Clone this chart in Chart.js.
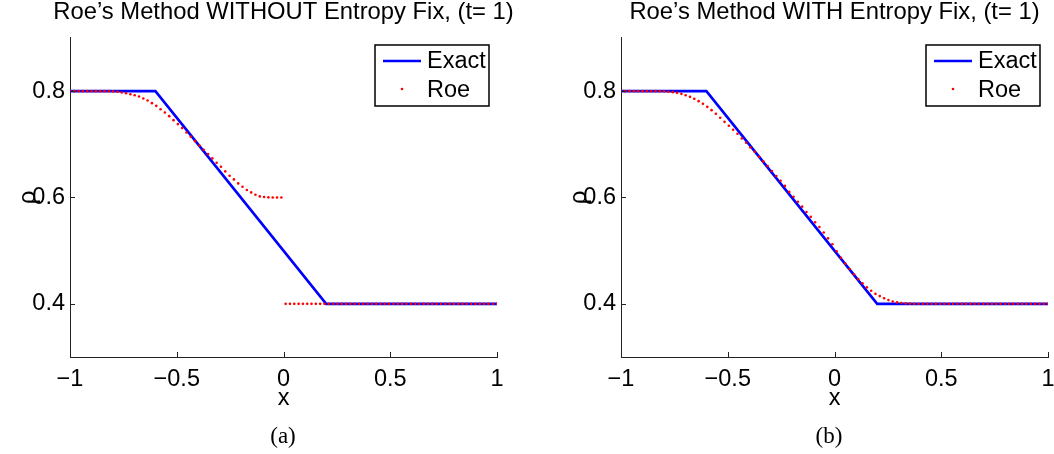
<!DOCTYPE html>
<html>
<head>
<meta charset="utf-8">
<script src="https://cdn.jsdelivr.net/npm/chart.js@4/dist/chart.umd.min.js"></script>
<style>
  html, body { margin: 0; padding: 0; background: #fff; }
  #wrap { position: relative; width: 1054px; height: 454px; overflow: hidden; }
  .panel { position: absolute; top: 0; width: 567px; height: 454px; }
  .caption { position: absolute; top: 423px; width: 100px; line-height: 26px; text-align: center;
             font-family: "Liberation Serif", "DejaVu Serif", serif; font-size: 23px; color: #000; }
</style>
</head>
<body>
<div id="wrap">
  <div class="panel" style="left:0"><canvas id="chartA" width="567" height="454"></canvas></div>
  <div class="panel" style="left:551px"><canvas id="chartB" width="567" height="454"></canvas></div>
  <div class="caption" style="left:233px">(a)</div>
  <div class="caption" style="left:779px">(b)</div>
</div>
<script>
// grid points of the numerical solution (100 points on [-1, 1])
const xs = [
  -1, -0.9798, -0.9596, -0.9394, -0.9192, -0.8990, -0.8788, -0.8586, -0.8384, -0.8182,
  -0.7980, -0.7778, -0.7576, -0.7374, -0.7172, -0.6970, -0.6768, -0.6566, -0.6364, -0.6162,
  -0.5960, -0.5758, -0.5556, -0.5354, -0.5152, -0.4949, -0.4747, -0.4545, -0.4343, -0.4141,
  -0.3939, -0.3737, -0.3535, -0.3333, -0.3131, -0.2929, -0.2727, -0.2525, -0.2323, -0.2121,
  -0.1919, -0.1717, -0.1515, -0.1313, -0.1111, -0.0909, -0.0707, -0.0505, -0.0303, -0.0101,
  0.0101, 0.0303, 0.0505, 0.0707, 0.0909, 0.1111, 0.1313, 0.1515, 0.1717, 0.1919,
  0.2121, 0.2323, 0.2525, 0.2727, 0.2929, 0.3131, 0.3333, 0.3535, 0.3737, 0.3939,
  0.4141, 0.4343, 0.4545, 0.4747, 0.4949, 0.5152, 0.5354, 0.5556, 0.5758, 0.5960,
  0.6162, 0.6364, 0.6566, 0.6768, 0.6970, 0.7172, 0.7374, 0.7576, 0.7778, 0.7980,
  0.8182, 0.8384, 0.8586, 0.8788, 0.8990, 0.9192, 0.9394, 0.9596, 0.9798, 1
];

// Roe without entropy fix (expansion shock at x = 0)
const roeWithout = [
  0.8, 0.8, 0.8, 0.8, 0.8, 0.8, 0.8, 0.8, 0.8, 0.8,
  0.7995, 0.7988, 0.7974, 0.7962, 0.7943, 0.7924, 0.7899, 0.7862, 0.7824, 0.7774,
  0.7724, 0.7661, 0.7599, 0.7530, 0.7455, 0.7380, 0.7305, 0.7223, 0.7142, 0.7060,
  0.6979, 0.6898, 0.6816, 0.6735, 0.6654, 0.6578, 0.6491, 0.6409, 0.6340, 0.6265,
  0.6203, 0.6140, 0.6096, 0.6053, 0.6021, 0.6009, 0.6003, 0.6, 0.6, 0.6,
  0.4, 0.4, 0.4, 0.4, 0.4, 0.4, 0.4, 0.4, 0.4, 0.4,
  0.4, 0.4, 0.4, 0.4, 0.4, 0.4, 0.4, 0.4, 0.4, 0.4,
  0.4, 0.4, 0.4, 0.4, 0.4, 0.4, 0.4, 0.4, 0.4, 0.4,
  0.4, 0.4, 0.4, 0.4, 0.4, 0.4, 0.4, 0.4, 0.4, 0.4,
  0.4, 0.4, 0.4, 0.4, 0.4, 0.4, 0.4, 0.4, 0.4, 0.4
];

// Roe with entropy fix
const roeWith = [
  0.8, 0.8, 0.8, 0.8, 0.8, 0.8, 0.8, 0.8, 0.8, 0.8,
  0.7996, 0.7990, 0.7981, 0.7968, 0.7949, 0.7924, 0.7893, 0.7855, 0.7812, 0.7762,
  0.7705, 0.7643, 0.7574, 0.7499, 0.7423, 0.7348, 0.7273, 0.7198, 0.7110, 0.7029,
  0.6941, 0.6860, 0.6766, 0.6679, 0.6591, 0.6497, 0.6403, 0.6316, 0.6218, 0.6105,
  0.6015, 0.5919, 0.5828, 0.5727, 0.5636, 0.5535, 0.5444, 0.5343, 0.5232, 0.5121,
  0.4990, 0.4868, 0.4757, 0.4656, 0.4555, 0.4464, 0.4385, 0.4310, 0.4245, 0.4188,
  0.4145, 0.4105, 0.4070, 0.4045, 0.4027, 0.4015, 0.4008, 0.4004, 0.4002, 0.4001,
  0.4, 0.4, 0.4, 0.4, 0.4, 0.4, 0.4, 0.4, 0.4, 0.4,
  0.4, 0.4, 0.4, 0.4, 0.4, 0.4, 0.4, 0.4, 0.4, 0.4,
  0.4, 0.4, 0.4, 0.4, 0.4, 0.4, 0.4, 0.4, 0.4, 0.4
];

// exact rarefaction
const exactX = [-1, -0.6, 0.2, 1];
const exactY = [0.8, 0.8, 0.4, 0.4];

const xTicks = [-1, -0.5, 0, 0.5, 1];
const yTicks = [0.4, 0.6, 0.8];

const FONT = '"Liberation Sans", Arial, Helvetica, sans-serif';
Chart.defaults.font.family = FONT;
Chart.defaults.color = '#000';

const fmt = v => (v < 0 ? '\u2212' + Math.abs(v) : String(v));

// small inward tick marks like matlab
const axisTicks = {
  id: 'axisTicks',
  afterDatasetsDraw(chart) {
    const { ctx, chartArea, scales: { x, y } } = chart;
    ctx.save();
    ctx.strokeStyle = '#222';
    ctx.lineWidth = 1;
    ctx.beginPath();
    xTicks.forEach(v => {
      const px = Math.round(x.getPixelForValue(v)) + 0.5;
      ctx.moveTo(px, chartArea.bottom);
      ctx.lineTo(px, chartArea.bottom - 5);
    });
    yTicks.forEach(v => {
      const py = Math.round(y.getPixelForValue(v)) + 0.5;
      ctx.moveTo(chartArea.left, py);
      ctx.lineTo(chartArea.left + 5, py);
    });
    ctx.stroke();
    ctx.restore();
  }
};

// boxed legend in the top right corner of the axes
const boxLegend = {
  id: 'boxLegend',
  afterDraw(chart) {
    const { ctx, chartArea } = chart;
    const [exact, roe] = chart.data.datasets;
    const w = 114, h = 61;
    const left = chartArea.right - 8 - w;
    const top = chartArea.top + 7;
    ctx.save();
    ctx.fillStyle = '#fff';
    ctx.fillRect(left, top, w, h);
    ctx.strokeStyle = '#000';
    ctx.lineWidth = 1.5;
    ctx.strokeRect(left, top, w, h);

    ctx.strokeStyle = exact.borderColor;
    ctx.lineWidth = exact.borderWidth;
    ctx.beginPath();
    ctx.moveTo(left + 8, top + 16);
    ctx.lineTo(left + 46, top + 16);
    ctx.stroke();

    ctx.fillStyle = roe.backgroundColor;
    ctx.beginPath();
    ctx.arc(left + 27, top + 44, roe.pointRadius, 0, 2 * Math.PI);
    ctx.fill();

    ctx.fillStyle = '#000';
    ctx.font = '23.5px ' + FONT;
    ctx.textBaseline = 'middle';
    ctx.fillText(exact.label, left + 52, top + 17);
    ctx.fillText(roe.label, left + 52, top + 46);
    ctx.restore();
  }
};

function makeChart(id, title, roe) {
  return new Chart(document.getElementById(id), {
    type: 'scatter',
    data: {
      datasets: [
        {
          label: 'Exact',
          data: exactX.map((x, i) => ({ x: x, y: exactY[i] })),
          showLine: true,
          borderColor: '#0000ff',
          borderWidth: 2.6,
          pointRadius: 0,
          order: 2,
        },
        {
          label: 'Roe',
          data: xs.map((x, i) => ({ x: x, y: roe[i] })),
          showLine: false,
          pointRadius: 1.3,
          pointBorderWidth: 0,
          backgroundColor: '#ff0000',
          borderColor: '#ff0000',
          order: 1,
        },
      ],
    },
    options: {
      responsive: false,
      animation: false,
      layout: { padding: 0 },
      plugins: {
        legend: { display: false },
        tooltip: { enabled: false },
        title: {
          display: true,
          text: title,
          color: '#000',
          font: { size: 23.8, weight: 'normal', lineHeight: 1.05 },
          padding: { top: 0, bottom: 13 },
        },
      },
      scales: {
        x: {
          type: 'linear',
          min: -1,
          max: 1,
          afterBuildTicks: s => { s.ticks = xTicks.map(v => ({ value: v })); },
          afterFit: s => { s.height = 97; },
          grid: { display: false, drawTicks: false },
          border: { display: true, color: '#222', width: 1 },
          ticks: { autoSkip: false, maxRotation: 0, padding: 8, color: '#000', font: { size: 23.5 }, callback: fmt },
          title: { display: true, text: 'x', color: '#000', font: { size: 23.5 }, padding: { top: 0, bottom: 41 } },
        },
        y: {
          type: 'linear',
          min: 0.3,
          max: 0.9,
          afterBuildTicks: s => { s.ticks = yTicks.map(v => ({ value: v })); },
          afterFit: s => { s.width = 70; },
          grid: { display: false, drawTicks: false },
          border: { display: true, color: '#222', width: 1 },
          ticks: { padding: 5, color: '#000', font: { size: 23.5 }, callback: fmt },
          title: { display: true, text: 'ρ', color: '#000', font: { size: 24 }, padding: { top: 14, bottom: 0 } },
        },
        // empty right axis, only keeps the axes centred under the title
        yPad: {
          type: 'linear',
          position: 'right',
          afterFit: s => { s.width = 70; },
          grid: { display: false, drawTicks: false },
          border: { display: false },
          ticks: { display: false },
        },
      },
    },
    plugins: [axisTicks, boxLegend],
  });
}

makeChart('chartA', 'Roe\u2019s Method WITHOUT Entropy Fix, (t= 1)', roeWithout);
makeChart('chartB', 'Roe\u2019s Method WITH Entropy Fix, (t= 1)', roeWith);
</script>
</body>
</html>
